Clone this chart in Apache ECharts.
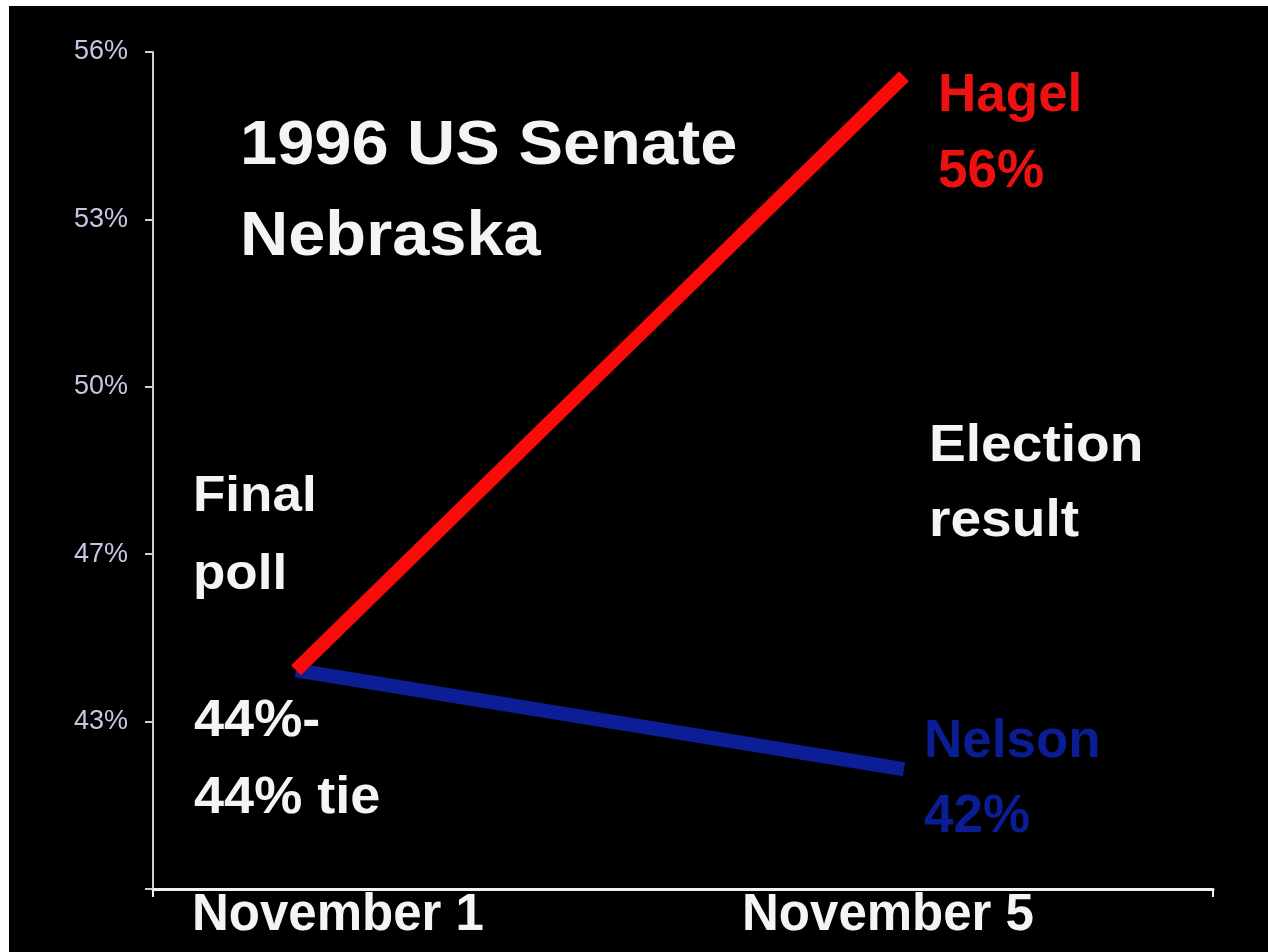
<!DOCTYPE html>
<html>
<head>
<meta charset="utf-8">
<title>1996 US Senate – Nebraska</title>
<script src="https://cdn.jsdelivr.net/npm/echarts@6/dist/echarts.min.js"></script>
<style>
  html, body { margin: 0; padding: 0; background: #ffffff; }
  #chart { position: absolute; left: 9px; top: 6px; width: 1259px; height: 946px; }
</style>
</head>
<body>
<div id="chart"></div>
<script>
// Dates on the horizontal axis (final poll, election day)
const dates = ['November 1', 'November 5'];
// Vote share, percent
const hagel = [44, 56];
const nelson = [44, 42];
// Vertical axis ticks and the labels printed beside them
const yTickValues = [39.58, 42.962, 46.344, 49.726, 53.108, 56.49];
const yTickLabels = ['', '43%', '47%', '50%', '53%', '56%'];

const FONT = "'Liberation Sans', Arial, sans-serif";
const xMin = -0.2352, xMax = 1.5082;

const chart = echarts.init(document.getElementById('chart'), null, { renderer: 'canvas' });

function toPoints(values) {
  return dates.map((d, i) => [i, values[i]]);
}

chart.setOption({
  backgroundColor: '#000000',
  animation: false,
  grid: { left: 144, right: 55, top: 46, bottom: 63 },
  xAxis: {
    type: 'value',
    min: xMin,
    max: xMax,
    splitLine: { show: false },
    axisLine: { show: true, onZero: false, lineStyle: { color: '#f2f2f2', width: 3 } },
    axisTick: { show: true, inside: false, length: 8, customValues: [xMin, xMax],
                lineStyle: { color: '#f2f2f2', width: 2 } },
    axisLabel: {
      customValues: dates.map((d, i) => i),
      margin: 1,
      color: '#f4f4f4',
      fontFamily: FONT,
      fontWeight: 'bold',
      fontSize: 51,
      formatter: function (v) {
        const i = Math.round(v);
        return '{d' + i + '|' + dates[i] + '}';
      },
      rich: {
        d0: { padding: [0, 0, 0, 84], color: '#f4f4f4', fontFamily: FONT, fontWeight: 'bold', fontSize: 51 },
        d1: { padding: [0, 32, 0, 0], color: '#f4f4f4', fontFamily: FONT, fontWeight: 'bold', fontSize: 51 }
      }
    }
  },
  yAxis: {
    type: 'value',
    min: yTickValues[0],
    max: yTickValues[yTickValues.length - 1],
    splitLine: { show: false },
    axisLine: { show: true, onZero: false, lineStyle: { color: '#cfcfcf', width: 2 } },
    axisTick: { show: true, inside: false, length: 8, customValues: yTickValues,
                lineStyle: { color: '#cfcfcf', width: 2 } },
    axisLabel: {
      customValues: yTickValues.filter((v, i) => yTickLabels[i] !== ''),
      margin: 25,
      color: '#c6c6e2',
      fontFamily: FONT,
      fontSize: 27,
      formatter: function (v) {
        const i = yTickValues.findIndex(t => Math.abs(t - v) < 1e-6);
        return i >= 0 ? yTickLabels[i] : '';
      }
    }
  },
  series: [
    {
      name: 'Nelson',
      type: 'line',
      data: toPoints(nelson),
      symbol: 'none',
      lineStyle: { color: '#0c1e96', width: 14, cap: 'butt' },
      endLabel: {
        show: true,
        distance: 0,
        offset: [20, 11],
        formatter: p => p.seriesName + '\n' + p.value[1] + '%',
        color: '#0b1d94',
        fontFamily: FONT,
        fontWeight: 'bold',
        fontSize: 53,
        lineHeight: 75
      }
    },
    {
      name: 'Hagel',
      type: 'line',
      data: toPoints(hagel),
      symbol: 'none',
      lineStyle: { color: '#fb0a0a', width: 14, cap: 'butt' },
      endLabel: {
        show: true,
        distance: 0,
        offset: [34, 58],
        formatter: p => p.seriesName + '\n' + p.value[1] + '%',
        color: '#ee1111',
        fontFamily: FONT,
        fontWeight: 'bold',
        fontSize: 53,
        lineHeight: 76
      }
    }
  ],
  graphic: [
    {
      type: 'text', x: 231, y: 95, scaleX: 1.06,
      style: { text: '1996 US Senate\nNebraska', fill: '#f4f4f4',
               font: 'bold 63px ' + FONT, lineHeight: 91, align: 'left', verticalAlign: 'top' }
    },
    {
      type: 'text', x: 184, y: 452, scaleX: 1.06,
      style: { text: 'Final\npoll', fill: '#f4f4f4',
               font: 'bold 50px ' + FONT, lineHeight: 78, align: 'left', verticalAlign: 'top' }
    },
    {
      type: 'text', x: 185, y: 677, scaleX: 1.06,
      style: { text: '44%-\n44% tie', fill: '#f4f4f4',
               font: 'bold 51px ' + FONT, lineHeight: 77, align: 'left', verticalAlign: 'top' }
    },
    {
      type: 'text', x: 920, y: 403, scaleX: 1.06,
      style: { text: 'Election\nresult', fill: '#f4f4f4',
               font: 'bold 52px ' + FONT, lineHeight: 75, align: 'left', verticalAlign: 'top' }
    }
  ]
});
</script>
</body>
</html>
